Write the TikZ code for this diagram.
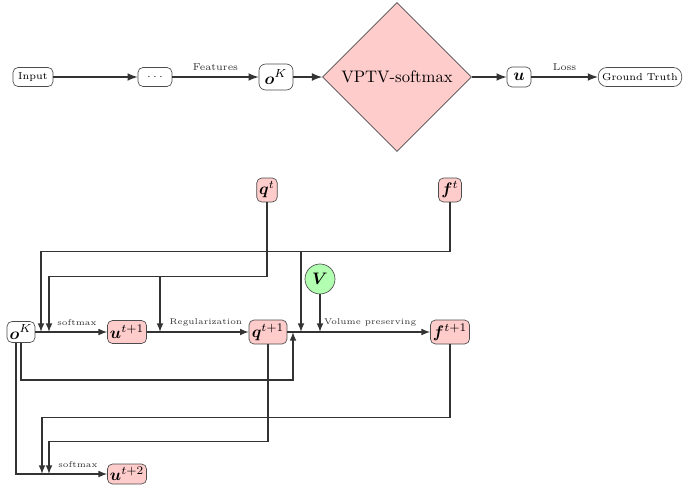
\documentclass[tikz,border=0pt]{standalone}
\usepackage{bm}
\usetikzlibrary{arrows, shapes, positioning}

\begin{document}
\begin{tikzpicture}[x=0.6pt, y=-0.6pt, >=latex,
    flow/.style={->, line width=1.1pt, draw=black!80},
    link/.style={->, thick, draw=black!80},
    textnode/.style={draw=black!70, rounded corners=3pt, fill=white, inner sep=1pt, font=\fontsize{6}{7}\selectfont},
    mathnode/.style={draw=black!70, rounded corners=3pt, fill=red!20, inner sep=1.5pt},
    toplabel/.style={font=\fontsize{6}{7}\selectfont, above, text=black!80},
    lbl/.style={font=\tiny, above, text=black!80, pos=0.58}]
        \useasboundingbox (0,0) rectangle (690,489);

        % pipeline
        \node[textnode, minimum width=24pt, minimum height=11.4pt] (input) at (33,77) {Input};
        \node[textnode, minimum width=20.4pt, minimum height=11.4pt] (dots) at (155,77) {$\cdots$};
        \node[textnode, rounded corners=4pt, minimum width=20.4pt, minimum height=15.6pt, font=\normalsize] (ok) at (276,77) {$\bm{o}^K$};
        \node[diamond, aspect=1, draw=black!70, fill=red!20, minimum size=89.4pt, inner sep=0pt] (vptv) at (397,77) {VPTV-softmax};
        \node[textnode, minimum width=14.4pt, minimum height=12pt, font=\normalsize] (u) at (519,77) {$\bm{u}$};
        \node[textnode, rounded corners=5pt, minimum width=50pt, minimum height=11.4pt] (gt) at (640,77) {Ground Truth};

        \draw[flow] (input) -- (dots);
        \draw[flow] (dots) -- node[toplabel] {Features} (ok);
        \draw[flow] (ok) -- (vptv);
        \draw[flow] (vptv) -- (u);
        \draw[flow] (u) -- node[toplabel] {Loss} (gt);

        % unrolled iteration
        \node[textnode, font=\normalsize, minimum width=16.8pt, minimum height=12.6pt] (ok2) at (21,332) {$\bm{o}^K$};
        \node[mathnode, minimum width=23.4pt, minimum height=13.8pt] (ut1) at (127,332) {$\bm{u}^{t+1}$};
        \node[mathnode, minimum width=22.8pt, minimum height=14.4pt] (qt1) at (268,332) {$\bm{q}^{t+1}$};
        \node[mathnode, minimum width=23.4pt, minimum height=14.4pt] (ft1) at (450,332) {$\bm{f}^{t+1}$};
        \node[mathnode, minimum width=12pt, minimum height=14.4pt] (qt) at (267,190) {$\bm{q}^{t}$};
        \node[mathnode, minimum width=13.8pt, minimum height=14.4pt] (ft) at (450,190) {$\bm{f}^{t}$};
        \node[circle, draw=black!70, fill=green!30, minimum size=18pt, inner sep=0pt] (V) at (320,279) {$\bm{V}$};
        \node[mathnode, minimum width=23.4pt, minimum height=12pt] (ut2) at (127,474) {$\bm{u}^{t+2}$};

        \coordinate (fin) at (41,332);
        \coordinate (qin) at (49,332);
        \coordinate (qtop) at (160,276);
        \coordinate (qsplit) at (160,332);
        \coordinate (ftop) at (301,251);
        \coordinate (fsplit) at (301,332);
        \coordinate (vin) at (320,332);
        \coordinate (okin) at (293,332);
        \coordinate (fin2) at (42,474);
        \coordinate (qin2) at (49,474);

        \draw[link] (ok2) -- node[lbl] {softmax} (ut1);
        \draw[link] (ut1) -- node[lbl] {Regularization} (qt1);
        \draw[link] (qt1) -- node[lbl] {Volume preserving} (ft1);

        \draw[link] (qt.south) -- ++(0,74) -| (qin);
        \draw[link] (qtop) -- (qsplit);
        \draw[link] (ft.south) -- ++(0,49) -| (fin);
        \draw[link] (ftop) -- (fsplit);
        \draw[link] (V) -- (vin);
        \draw[link] (ok2.south) -- ++(0,37) -| (okin);

        \draw[link] ([xshift=-3pt]ok2.south) |- node[lbl, pos=0.84] {softmax} (ut2);
        \draw[link] (ft1.south) -- ++(0,73) -| (fin2);
        \draw[link] (qt1.south) -- ++(0,97) -| (qin2);
    \end{tikzpicture}
\end{document}
